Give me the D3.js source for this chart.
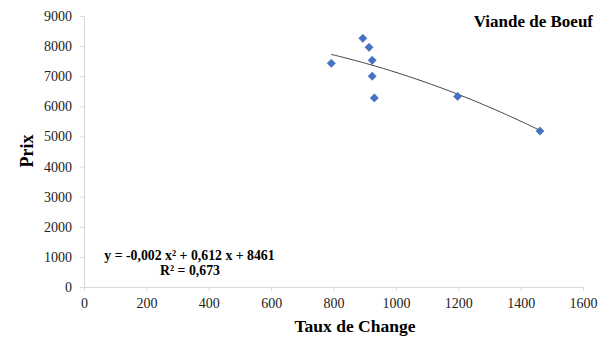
<!DOCTYPE html>
<html><head><meta charset="utf-8">
<script src="https://cdn.jsdelivr.net/npm/d3@7"></script>
<style>body{margin:0;background:#fff}svg{display:block}text{font-family:"Liberation Serif","Times New Roman",serif}</style>
</head><body>
<svg id="c" width="602" height="340"></svg>
<script>
const tauxChange = [793, 894, 914, 924, 924, 931, 1198, 1462];
const prix = [7430, 8260, 7960, 7530, 7000, 6280, 6330, 5180];
const xTicks = [0, 200, 400, 600, 800, 1000, 1200, 1400, 1600];
const yTicks = [0, 1000, 2000, 3000, 4000, 5000, 6000, 7000, 8000, 9000];
const trendCoef = [-0.001944, 0.612, 8461];
const title = "Viande de Boeuf";
const xTitle = "Taux de Change";
const yTitle = "Prix";
const eqText = "y = -0,002 x² + 0,612 x + 8461";
const r2Text = "R² = 0,673";

const svg = d3.select("#c");
const x = d3.scaleLinear().domain([0, 1600]).range([84, 583]);
const y = d3.scaleLinear().domain([0, 9000]).range([287, 16]);

const axisCol = "#d9d9d9";
const gx = svg.append("g").attr("transform", "translate(0,287)")
  .call(d3.axisBottom(x).tickValues(xTicks).tickSize(4).tickSizeOuter(0).tickFormat(d3.format("d")));
const gy = svg.append("g").attr("transform", "translate(84,0)")
  .call(d3.axisLeft(y).tickValues(yTicks).tickSize(4).tickSizeOuter(0).tickFormat(d3.format("d")));
[gx, gy].forEach(g => {
  g.select(".domain").attr("stroke", axisCol).attr("stroke-width", 1.2);
  g.selectAll(".tick line").attr("stroke", axisCol);
  g.selectAll(".tick text").attr("fill", "#222").style("font-size", "14px")
    .style("font-family", "'Liberation Serif', serif");
});
gx.selectAll(".tick text").attr("dy", "0").attr("y", 21);
gy.selectAll(".tick text").attr("x", -12);

// trendline
const xmin = d3.min(tauxChange), xmax = d3.max(tauxChange);
const trendPts = d3.range(0, 101).map(i => {
  const xv = xmin + (xmax - xmin) * i / 100;
  return [xv, trendCoef[0] * xv * xv + trendCoef[1] * xv + trendCoef[2]];
});
svg.append("path").datum(trendPts)
  .attr("fill", "none").attr("stroke", "#404040").attr("stroke-width", 1)
  .attr("d", d3.line().x(d => x(d[0])).y(d => y(d[1])));

// points
svg.append("g").selectAll("path").data(tauxChange.map((v, i) => [v, prix[i]]))
  .join("path")
  .attr("d", d3.symbol().type(d3.symbolSquare).size(34))
  .attr("transform", d => `translate(${x(d[0])},${y(d[1])}) rotate(45)`)
  .attr("fill", "#4472C4").attr("stroke", "#3a64b0").attr("stroke-width", 0.5);

svg.append("text").attr("x", 593).attr("y", 27).attr("text-anchor", "end")
  .style("font-size", "17px").style("font-weight", "bold").attr("fill", "#000").text(title);
svg.append("text").attr("x", 355).attr("y", 332).attr("text-anchor", "middle")
  .style("font-size", "17.5px").style("font-weight", "bold").attr("fill", "#000").text(xTitle);
svg.append("text").attr("transform", "translate(33,151) rotate(-90)").attr("text-anchor", "middle")
  .style("font-size", "18px").style("font-weight", "bold").attr("fill", "#000").text(yTitle);
svg.append("text").attr("x", 189.5).attr("y", 259.5).attr("text-anchor", "middle")
  .style("font-size", "13.8px").style("font-weight", "bold").attr("fill", "#000").text(eqText);
svg.append("text").attr("x", 190).attr("y", 275).attr("text-anchor", "middle")
  .style("font-size", "13.8px").style("font-weight", "bold").attr("fill", "#000").text(r2Text);
</script>
</body></html>
